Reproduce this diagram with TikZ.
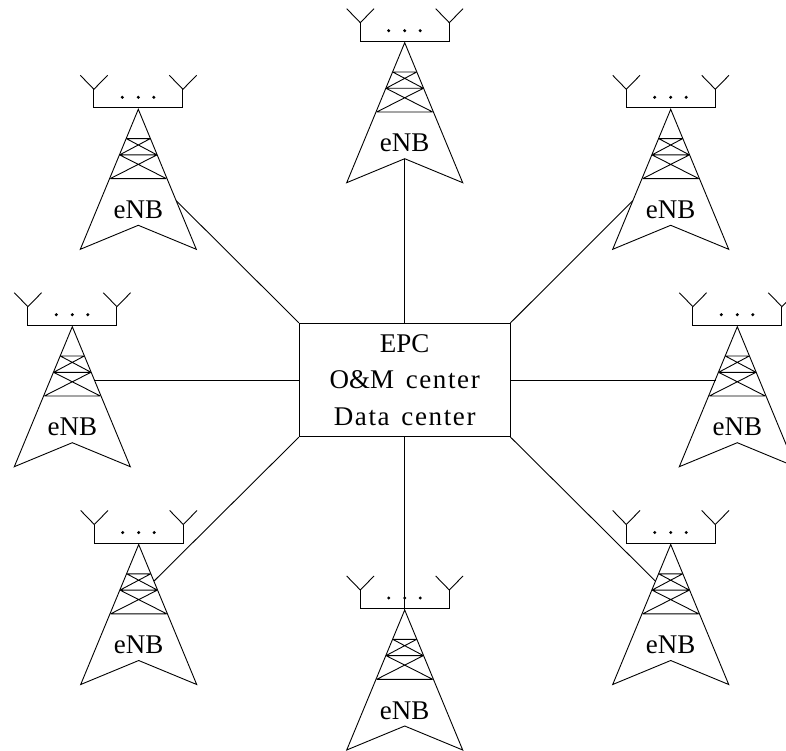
\documentclass[tikz,border=0pt]{standalone}
\usepackage{fontspec}
\setmainfont{Liberation Serif}
\newfontfamily\ctrfont[LetterSpace=6,WordSpace=1.4]{Liberation Serif}
\tikzset{
  x=1pt,y=-1pt,
  link/.style={draw=black,line width=0.9pt},
  lbl/.style={font=\fontsize{27}{30}\selectfont,inner sep=0pt,anchor=base},
  centerbox/.style={draw=black,line width=0.9pt,minimum width=210.7pt,minimum height=113.4pt,inner sep=0pt,align=center,font=\fontsize{27}{36.8}\selectfont},
  tower/.pic={
    \draw[line width=0.9pt,line join=miter] (-58,140) -- (0,0) -- (58,140) -- (0,116) -- cycle;
    \draw[line width=0.9pt]
      (-12,29.3) -- (12,29.3) (-18.7,45.6) -- (18.7,45.6) (-28,69.3) -- (28,69.3)
      (-12,29.3) -- (18.7,45.6) (12,29.3) -- (-18.7,45.6)
      (-18.7,45.6) -- (28,69.3) (18.7,45.6) -- (-28,69.3);
    \draw[line width=0.9pt] (-44.4,-20) -- (-44.4,-1.4) -- (44.6,-1.4) -- (44.6,-20);
    \draw[line width=0.9pt] (-58,-34) -- (-44.4,-20) -- (-30.7,-34);
    \draw[line width=0.9pt] (31,-34) -- (44.6,-20) -- (58.3,-34);
    \foreach \dx in {-16,0,15.5} \fill (\dx,-12) circle (1.7pt);
    \node[lbl] at (0,109) {eNB};
    \coordinate (-notch) at (0,116);
    \coordinate (-apex) at (0,0);
    \coordinate (-lowL) at (-37.9,91.4);
    \coordinate (-lowR) at (37.9,91.4);
    \coordinate (-midL) at (-21.8,52.6);
    \coordinate (-midR) at (21.8,52.6);
    \coordinate (-upL) at (-15.2,36.7);
    \coordinate (-upR) at (15.2,36.7);
  }
}
\begin{document}
\begin{tikzpicture}
\useasboundingbox (0,0) rectangle (786,751);
\clip (0,0) rectangle (786,751);
\pic (t) at (404.7,42.7) {tower};
\pic (tl) at (138.3,109.3) {tower};
\pic (tr) at (670.7,109.3) {tower};
\pic (l) at (72.3,326.7) {tower};
\pic (r) at (737.3,326.7) {tower};
\pic (bl) at (138.7,544.5) {tower};
\pic (br) at (670.7,544.5) {tower};
\pic (b) at (404.7,610) {tower};
\node[centerbox] (c) at (404.7,380) {EPC\\O\&M{\ctrfont\ center}\\{\ctrfont Data center}};
\draw[link] (c.north) -- (t-notch);
\draw[link] (c.south) -- (b-apex);
\draw[link] (c.west) -- (c.west -| l-midR);
\draw[link] (c.east) -- (c.east -| r-midL);
\draw[link] (c.north west) -- (tl-lowR);
\draw[link] (c.north east) -- (tr-lowL);
\draw[link] (c.south west) -- (bl-upR);
\draw[link] (c.south east) -- (br-upL);
\end{tikzpicture}
\end{document}
